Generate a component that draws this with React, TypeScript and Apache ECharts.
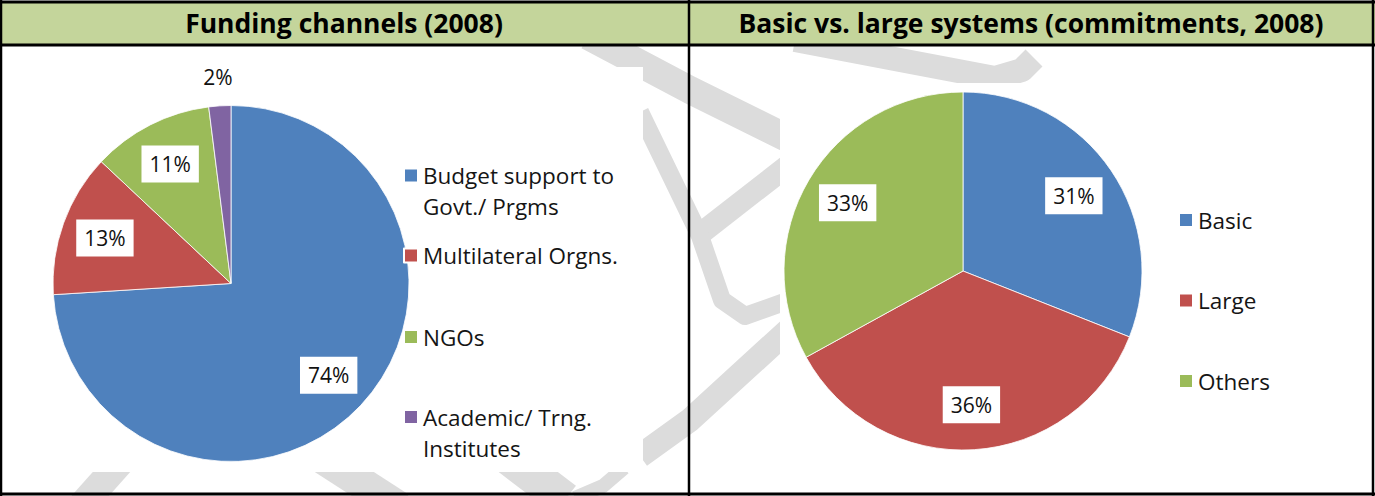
import React, { useEffect, useRef } from "react";
import * as echarts from "echarts";

// ---- data ----
const panelTitles = ["Funding channels (2008)", "Basic vs. large systems (commitments, 2008)"];
const channelNames = ["Budget support to Govt./ Prgms", "Multilateral Orgns.", "NGOs", "Academic/ Trng. Institutes"];
const channelLegendLabels = ["Budget support to\nGovt./ Prgms", "Multilateral Orgns.", "NGOs", "Academic/ Trng.\nInstitutes"];
const channelShares = [74, 13, 11, 2];
const systemNames = ["Basic", "Large", "Others"];
const systemShares = [31, 36, 33];

const channelColors = ["#4f81bd", "#c0504d", "#9bbb59", "#8064a2"];
const systemColors = ["#4f81bd", "#c0504d", "#9bbb59"];

const FONT = "'Open Sans', 'Noto Sans', sans-serif";
const WM = "#dcdcdc";

export default function App() {
  const ref = useRef<HTMLDivElement>(null);

  useEffect(() => {
    if (!ref.current) return;
    const chart = echarts.init(ref.current, undefined, { renderer: "svg" });

    const channelData = channelNames.map((n, i) => ({ name: n, value: channelShares[i], itemStyle: { color: channelColors[i] } }));
    const systemData = systemNames.map((n, i) => ({ name: n, value: systemShares[i], itemStyle: { color: systemColors[i] } }));

    const boxLabel = {
      show: true,
      position: "inside",
      formatter: (p: any) => p.value + "%",
      fontFamily: FONT,
      fontSize: 21,
      color: "#111",
      backgroundColor: "#ffffff",
      padding: [8, 8],
    };

    const overlay = (data: any[], center: number[], radius: number, showIdx: (i: number) => boolean, boxed: boolean) => ({
      type: "pie",
      silent: true,
      center,
      radius: [0, radius],
      startAngle: 90,
      clockwise: true,
      z: 3,
      itemStyle: { color: "rgba(0,0,0,0)", borderWidth: 0 },
      labelLine: { show: false },
      label: boxed ? boxLabel : { ...boxLabel, backgroundColor: "transparent", padding: 0 },
      data: data.map((d, i) => ({
        name: d.name,
        value: d.value,
        itemStyle: { color: "rgba(0,0,0,0)" },
        label: { show: showIdx(i) },
      })),
    });

    const legendText = { fontFamily: FONT, fontSize: 22.5, color: "#151515", lineHeight: 31 };
    const markerCentersY = [175.5, 255.5, 337, 417];

    const channelLegends = channelNames.map((n, i) => {
      const twoLine = channelLegendLabels[i].includes("\n");
      return {
        orient: "vertical",
        left: 403,
        top: twoLine ? markerCentersY[i] - 46.5 : markerCentersY[i] - 15.5,
        padding: 0,
        itemWidth: 14,
        itemHeight: 14,
        icon: "rect",
        selectedMode: false,
        data: [n],
        // a blank first line keeps the marker level with the first text line
        formatter: () => (twoLine ? " \n" + channelLegendLabels[i] : channelLegendLabels[i]),
        textStyle: legendText,
      };
    });

    const line = (x1: number, y1: number, x2: number, y2: number, w = 2.5) => ({
      type: "line",
      z: 20,
      shape: { x1, y1, x2, y2 },
      style: { stroke: "#000", lineWidth: w },
    });
    const wm = (points: number[][], w: number) => ({
      type: "polyline",
      z: 0,
      shape: { points },
      style: { stroke: WM, lineWidth: w, fill: null, lineJoin: "round" },
    });

    const option: any = {
      animation: false,
      backgroundColor: "#ffffff",
      legend: [
        ...channelLegends,
        {
          orient: "vertical",
          left: 1178,
          top: 220 - 15.5,
          padding: 0,
          itemWidth: 14,
          itemHeight: 14,
          itemGap: 49.5,
          icon: "rect",
          selectedMode: false,
          data: systemNames,
          textStyle: legendText,
        },
      ],
      graphic: [
        // watermark strokes (behind the chart images)
        wm([[588, 36], [690, 90], [795, 142]], 28),
        wm([[795, 160], [700, 234]], 22),
        wm([[640, 112], [700, 236], [722, 300], [745, 316], [790, 300]], 18),
        wm([[795, 324], [690, 420], [640, 456]], 24),
        wm([[795, 40], [900, 60], [995, 78], [1022, 70], [1034, 58]], 24),
        wm([[82, 505], [124, 458]], 28),
        wm([[318, 455], [400, 508]], 32),
        wm([[506, 455], [565, 500]], 36),
        wm([[575, 498], [603, 486], [624, 468]], 14),
        // white chart-image areas
        { type: "rect", z: 1, shape: { x: 2, y: 67, width: 641, height: 405 }, style: { fill: "#ffffff" } },
        { type: "rect", z: 1, shape: { x: 780, y: 83, width: 592, height: 411 }, style: { fill: "#ffffff" } },
        // header band
        { type: "rect", z: 19, shape: { x: 0, y: 2, width: 1375, height: 43 }, style: { fill: "#c4d59b" } },
        {
          type: "text",
          z: 21,
          x: 344,
          y: 23,
          style: { text: panelTitles[0], font: `bold 26.5px ${FONT}`, fill: "#000", textAlign: "center", textVerticalAlign: "middle" },
        },
        {
          type: "text",
          z: 21,
          x: 1031,
          y: 23,
          style: { text: panelTitles[1], font: `bold 26.5px ${FONT}`, fill: "#000", textAlign: "center", textVerticalAlign: "middle" },
        },
        // table borders
        line(0, 2, 1375, 2, 3),
        line(0, 45, 1375, 45, 3),
        line(0, 494, 1375, 494, 3),
        line(1, 0, 1, 496, 2.5),
        line(689, 0, 689, 496, 2.5),
        line(1373, 0, 1373, 496, 2.5),
      ],
      series: [
        {
          type: "pie",
          center: [231, 283.5],
          radius: [0, 178],
          startAngle: 90,
          clockwise: true,
          silent: true,
          z: 2,
          itemStyle: { borderColor: "#ffffff", borderWidth: 0.8 },
          label: { show: false },
          labelLine: { show: false },
          data: channelData,
        },
        overlay(channelData, [231, 283.5], 262, (i) => channelShares[i] >= 5, true),
        overlay(channelData, [231, 283.5], 408, (i) => channelShares[i] < 5, false),
        {
          type: "pie",
          center: [963, 271],
          radius: [0, 179],
          startAngle: 90,
          clockwise: true,
          silent: true,
          z: 2,
          itemStyle: { borderColor: "#ffffff", borderWidth: 0.8 },
          label: { show: false },
          labelLine: { show: false },
          data: systemData,
        },
        overlay(systemData, [963, 271], 262, () => true, true),
      ],
    };

    chart.setOption(option);
    return () => chart.dispose();
  }, []);

  return <div ref={ref} style={{ position: "fixed", left: 0, top: 0, width: 1375, height: 496 }} />;
}
